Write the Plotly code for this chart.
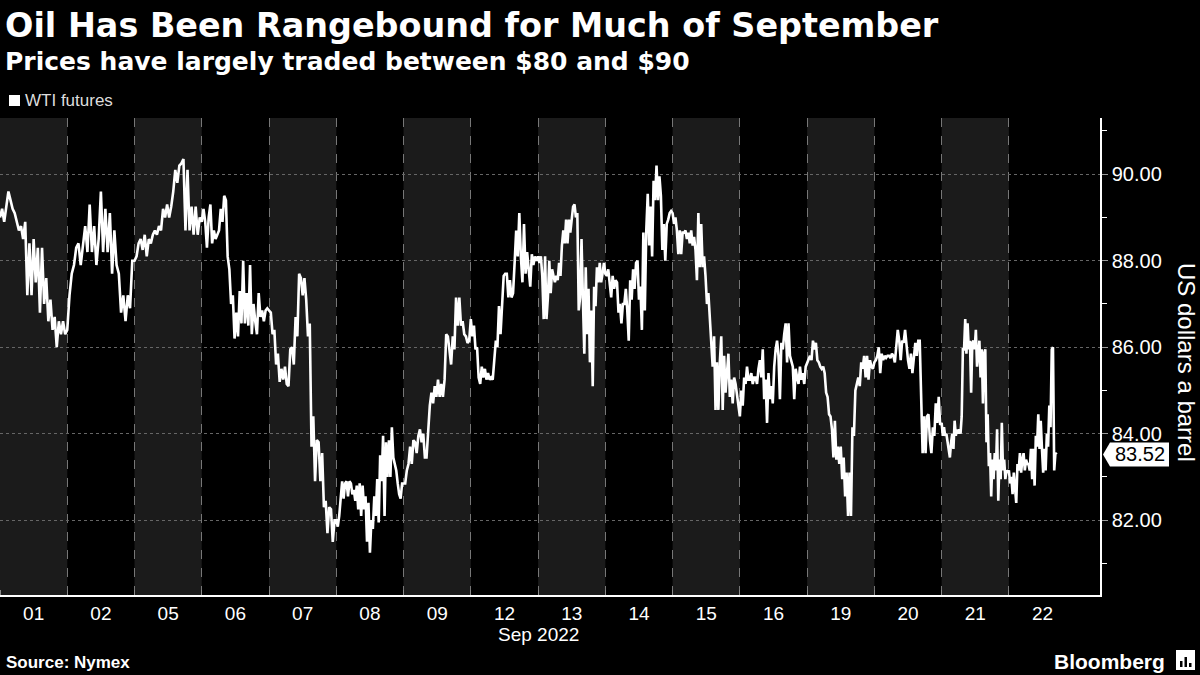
import plotly.graph_objects as go

# ---------------- data ----------------
days = ["01", "02", "05", "06", "07", "08", "09", "12", "13", "14", "15", "16", "19", "20", "21", "22"]

p01 = [89.0, 89.2, 88.9, 89.3, 89.6, 89.4, 89.2, 89.1, 88.9, 88.7, 88.8, 88.5, 88.9, 87.2, 88.4, 87.2,
       88.5, 87.5, 88.3, 86.8, 88.3, 87.0, 87.6, 86.6, 87.1, 86.4, 86.7, 86.0, 86.6, 86.3, 86.6, 86.3]
p02 = [86.4, 87.2, 87.7, 87.9, 88.3, 88.4, 87.9, 88.3, 88.8, 88.2, 89.3, 88.2, 88.8, 87.9, 88.5, 89.6,
       88.2, 89.2, 88.2, 89.1, 87.7, 88.7, 87.9, 87.7, 86.8, 87.2, 86.6, 87.2, 86.9, 88.0]
p05 = [88.0, 88.1, 88.4, 88.5, 88.25, 88.6, 88.1, 88.5, 88.4, 88.6, 88.7, 88.6, 88.8, 88.7, 89.2, 89.0,
       89.3, 89.0, 89.25, 89.6, 90.1, 89.8, 90.2, 90.25, 90.35, 88.7, 90.1, 88.7, 89.25, 88.6, 89.25,
       88.6, 89.0]
p06 = [88.9, 89.2, 88.9, 88.3, 89.0, 89.3, 88.4, 88.7, 88.5, 88.6, 88.7, 89.2, 88.9, 89.5, 89.4, 88.1,
       87.8, 87.0, 87.2, 86.2, 86.8, 86.25, 87.3, 86.55, 88.0, 86.55, 87.25, 86.5, 87.9, 86.3, 87.0,
       86.6, 86.3, 87.25, 86.7, 86.85, 86.6, 86.85, 86.9]
p07 = [86.85, 86.8, 86.3, 86.4, 85.6, 85.85, 85.2, 85.5, 85.25, 85.55, 85.15, 85.1, 85.95, 86.0, 85.6,
       86.7, 86.25, 87.7, 87.6, 87.2, 87.6, 87.1, 86.25, 86.55, 83.7, 84.4, 82.9, 83.85, 83.8, 82.9,
       83.55, 82.3, 82.45, 81.7, 82.3, 82.25, 81.5, 82.0]
p08 = [82.0, 81.85, 82.1, 82.5, 82.9, 82.5, 82.85, 82.9, 82.55, 82.9, 82.85, 82.6, 82.7, 82.45, 82.8,
       82.25, 82.85, 82.1, 82.8, 82.25, 82.55, 81.5, 82.4, 81.25, 82.0, 81.8, 82.55, 82.1, 82.95, 81.95,
       83.5, 82.9, 83.95, 82.1, 83.8, 83.0, 83.85, 83.0, 84.15, 83.45, 83.3, 83.15, 82.85, 82.6, 82.5,
       82.85]
p09 = [82.85, 82.85, 83.15, 83.3, 83.7, 83.3, 83.85, 83.8, 83.55, 83.95, 84.1, 83.8, 84.0, 83.45, 83.45,
       84.15, 84.65, 84.95, 84.7, 85.1, 84.85, 85.25, 84.85, 85.15, 84.85, 85.25, 86.3, 86.25, 85.95,
       85.6, 86.25, 85.95, 87.15, 86.5, 87.15, 86.5, 86.6, 86.3, 86.25, 86.1, 86.15]
p12 = [86.65, 86.25, 86.5, 85.95, 86.0, 85.3, 85.15, 85.55, 85.3, 85.5, 85.25, 85.4, 85.25, 85.3, 85.25,
       85.7, 86.15, 86.0, 86.95, 86.3, 87.15, 87.65, 87.7, 87.7, 87.15, 87.55, 87.15, 87.25, 87.95, 88.7,
       88.1, 89.1, 88.1, 87.5, 88.85, 87.7, 88.2, 87.85, 87.4, 88.15, 87.9, 88.1, 88.0]
p13 = [88.1, 87.95, 88.1, 87.65, 86.65, 88.1, 86.65, 87.15, 88.0, 87.25, 87.8, 87.65, 87.5, 87.65, 87.55,
       87.95, 87.65, 88.35, 88.7, 88.4, 88.95, 88.4, 88.95, 88.65, 89.0, 89.25, 89.3, 89.0, 89.1, 86.85,
       87.15, 88.5, 87.1, 85.85, 87.85, 86.3, 87.35, 85.65, 86.85, 85.1, 87.4, 86.95, 87.85, 87.5, 87.95,
       87.5, 87.7, 87.95]
p14 = [87.7, 87.65, 87.8, 87.5, 87.15, 87.65, 87.35, 87.55, 87.5, 86.8, 87.0, 86.55, 87.0, 87.0, 87.35,
       86.85, 86.15, 87.55, 87.1, 87.8, 87.35, 87.95, 88.0, 87.1, 87.4, 86.4, 88.65, 86.85, 88.7, 89.55,
       88.35, 89.25, 88.1, 89.85, 89.4, 90.2, 89.4, 89.95, 89.5, 88.25, 88.85, 88.0, 88.85, 88.95, 89.1,
       89.15]
p15 = [89.1, 88.85, 89.0, 88.7, 88.15, 88.7, 88.15, 88.65, 88.65, 88.7, 88.5, 88.65, 88.4, 88.7, 88.35,
       88.55, 88.25, 87.55, 89.1, 87.85, 88.85, 87.85, 88.1, 87.65, 87.0, 87.25, 86.7, 86.25, 85.55, 86.25,
       84.55, 85.65, 84.55, 85.65, 86.25, 84.55, 85.8, 84.95, 85.55, 85.85, 84.85, 85.25, 84.7, 85.3,
       85.15, 84.85, 84.7]
p16 = [84.4, 85.0, 84.65, 85.3, 85.15, 85.55, 85.25, 85.25, 85.4, 85.15, 85.3, 85.3, 85.15, 85.5, 85.7,
       85.3, 85.95, 84.8, 85.25, 84.25, 85.4, 84.8, 85.1, 84.7, 85.55, 85.95, 86.15, 85.8, 84.8, 86.1,
       85.95, 86.3, 86.55, 85.65, 86.55, 85.8, 85.65, 85.55, 84.8, 85.5, 85.3, 85.15, 85.55, 85.25, 85.4,
       85.15, 85.55]
p19 = [85.65, 85.7, 85.8, 85.7, 86.15, 85.95, 86.1, 85.7, 85.65, 85.55, 85.5, 85.55, 85.4, 84.95, 84.85,
       84.45, 84.4, 84.1, 83.45, 84.3, 83.4, 83.7, 83.3, 83.7, 82.95, 83.45, 82.55, 83.1, 82.1, 83.1, 82.1,
       84.15, 83.95, 85.0, 85.15, 85.3, 85.1, 85.65, 85.5, 85.8, 85.3, 85.8, 85.25, 85.7, 85.55, 85.5]
p20 = [85.65, 85.7, 85.8, 86.0, 85.4, 85.85, 85.7, 85.8, 85.75, 85.8, 85.8, 85.75, 85.85, 85.8, 85.65,
       86.15, 86.4, 86.15, 85.7, 86.15, 86.1, 86.4, 85.95, 85.7, 85.5, 85.85, 85.4, 85.85, 86.1, 85.8,
       86.15, 86.15, 85.1, 83.55, 84.4, 83.55, 84.4, 84.45, 83.85, 83.55, 84.15, 83.95, 84.7, 84.25,
       84.85, 84.2]
p21 = [84.25, 83.95, 84.15, 83.95, 84.0, 83.8, 83.65, 83.45, 83.8, 84.0, 83.65, 84.3, 83.95, 84.1, 84.0,
       84.1, 84.0, 84.4, 85.95, 85.95, 86.65, 85.85, 86.55, 85.95, 86.15, 84.95, 86.1, 86.15, 85.95, 86.4,
       85.55, 85.95, 86.15, 85.3, 85.95, 84.7, 85.85, 85.95, 83.8, 84.45, 83.25, 83.55, 82.55, 83.4, 82.95,
       83.55, 83.15, 84.1, 82.45, 83.4, 82.95, 84.25, 83.15, 83.4, 82.95, 83.15, 83.1]
p22 = [83.15, 82.85, 83.0, 82.6, 83.1, 82.7, 82.4, 83.3, 83.15, 83.55, 83.1, 83.4, 83.55, 83.15, 83.4,
       83.3, 83.3, 83.15, 83.65, 82.95, 83.65, 82.8, 83.95, 83.7, 84.45, 83.65, 84.3, 83.65, 83.1, 83.65,
       83.15, 84.0, 83.7, 84.65, 84.15, 85.95, 86.0, 83.15, 83.55, 83.52]

prices_by_day = [p01, p02, p05, p06, p07, p08, p09, p12, p13, p14, p15, p16, p19, p20, p21, p22]
last_session_elapsed = 0.71   # share of the 22 Sep session traded at snapshot time
last_price = 83.52
y_ticks = [82, 84, 86, 88, 90]

# ---------------- build series ----------------
xs, ys = [], []
for k, vals in enumerate(prices_by_day):
    n = len(vals)
    if k == len(prices_by_day) - 1:
        step = last_session_elapsed / (n - 1)
    else:
        step = 1.0 / n
    for i, v in enumerate(vals):
        xs.append(k + i * step)
        ys.append(v)

W, H = 1200, 675
ML, MR, MT, MB = 0, 100, 118, 80
PW, PH = W - ML - MR, H - MT - MB


def px_x(x):
    return (x - ML) / PW


def px_y(y):
    return (H - MB - y) / PH


fig = go.Figure()
fig.add_trace(go.Scatter(x=xs, y=ys, mode="lines", name="WTI futures",
                         line=dict(color="white", width=2.6), showlegend=False,
                         hoverinfo="skip"))

shapes = []
for k in range(0, len(days), 2):
    shapes.append(dict(type="rect", xref="x", yref="paper", x0=k, x1=k + 1, y0=0, y1=1,
                       fillcolor="#1b1b1b", line=dict(width=0), layer="below"))

# last-value tag
shapes.append(dict(type="path", xref="paper", yref="y", xsizemode="pixel", ysizemode="pixel",
                   xanchor=1, yanchor=last_price,
                   path="M 3,0 L 10,-12 L 69,-12 L 69,12 L 10,12 Z",
                   fillcolor="white", line=dict(width=0), layer="above"))

# legend square
shapes.append(dict(type="rect", xref="paper", yref="paper",
                   x0=px_x(9), x1=px_x(20), y0=px_y(106), y1=px_y(95),
                   fillcolor="white", line=dict(width=0)))

# Bloomberg icon
shapes.append(dict(type="rect", xref="paper", yref="paper",
                   x0=px_x(1176), x1=px_x(1195), y0=px_y(670), y1=px_y(650),
                   fillcolor="white", line=dict(width=0)))
for bx, top in [(1180, 661), (1184.5, 657), (1189, 663)]:
    shapes.append(dict(type="rect", xref="paper", yref="paper",
                       x0=px_x(bx), x1=px_x(bx + 2.5), y0=px_y(667), y1=px_y(top),
                       fillcolor="black", line=dict(width=0)))

annotations = [
    dict(text="<b>Oil Has Been Rangebound for Much of September</b>", xref="paper", yref="paper",
         x=px_x(3), y=px_y(25), xanchor="left", yanchor="middle", showarrow=False,
         font=dict(family="DejaVu Sans", size=33.4, color="white")),
    dict(text="<b>Prices have largely traded between $80 and $90</b>", xref="paper", yref="paper",
         x=px_x(3), y=px_y(61), xanchor="left", yanchor="middle", showarrow=False,
         font=dict(family="DejaVu Sans", size=25, color="white")),
    dict(text="WTI futures", xref="paper", yref="paper",
         x=px_x(23), y=px_y(101), xanchor="left", yanchor="middle", showarrow=False,
         font=dict(family="Liberation Sans", size=17, color="#dddddd")),
    dict(text="Sep 2022", xref="x", yref="paper", x=len(days) / 2, y=px_y(634),
         xanchor="center", yanchor="middle", showarrow=False,
         font=dict(family="Liberation Sans", size=19, color="white")),
    dict(text="<b>Source: Nymex</b>", xref="paper", yref="paper",
         x=px_x(4), y=px_y(662), xanchor="left", yanchor="middle", showarrow=False,
         font=dict(family="Liberation Sans", size=17, color="white")),
    dict(text="<b>Bloomberg</b>", xref="paper", yref="paper",
         x=px_x(1167), y=px_y(661), xanchor="right", yanchor="middle", showarrow=False,
         font=dict(family="Liberation Sans", size=21, color="white")),
    dict(text="US dollars a barrel", xref="paper", yref="paper", textangle=90,
         x=px_x(1187), y=px_y(362), xanchor="center", yanchor="middle", showarrow=False,
         font=dict(family="Liberation Sans", size=24, color="white")),
    dict(text=f"{last_price:.2f}", xref="paper", yref="y", x=1, y=last_price, xshift=40,
         xanchor="center", yanchor="middle", showarrow=False,
         font=dict(family="Liberation Sans", size=20, color="black")),
]

fig.update_layout(
    width=W, height=H,
    margin=dict(l=ML, r=MR, t=MT, b=MB, pad=0),
    paper_bgcolor="black", plot_bgcolor="black",
    shapes=shapes, annotations=annotations,
    font=dict(family="Liberation Sans", color="white"),
    xaxis=dict(range=[0, PW / 67.26], tickmode="array",
               tickvals=[k + 0.5 for k in range(len(days))], ticktext=days,
               showgrid=False, zeroline=False, ticks="",
               showline=True, linecolor="white", linewidth=1.5,
               tickfont=dict(size=19, color="white"),
               minor=dict(tickmode="array", tickvals=list(range(0, len(days))),
                          showgrid=True, gridcolor="#777777", griddash="dash", gridwidth=1,
                          ticks="inside", ticklen=5, tickcolor="#888888")),
    yaxis=dict(side="right", range=[80.27, 91.30], tickmode="array", tickvals=y_ticks,
               ticktext=[f"{v:.2f}" for v in y_ticks],
               showgrid=True, gridcolor="#666666", griddash="dot", gridwidth=1,
               zeroline=False, showline=True, linecolor="white", linewidth=1.5,
               ticks="outside", ticklen=6, tickcolor="#999999",
               tickfont=dict(size=20, color="white"),
               minor=dict(tickmode="array", tickvals=[81, 83, 85, 87, 89, 91],
                          ticks="outside", ticklen=5, tickcolor="white", showgrid=False)),
)

fig.write_html("out.html", config={"displayModeBar": False},
               post_script="document.body.style.margin='0';document.body.style.background='black';")
